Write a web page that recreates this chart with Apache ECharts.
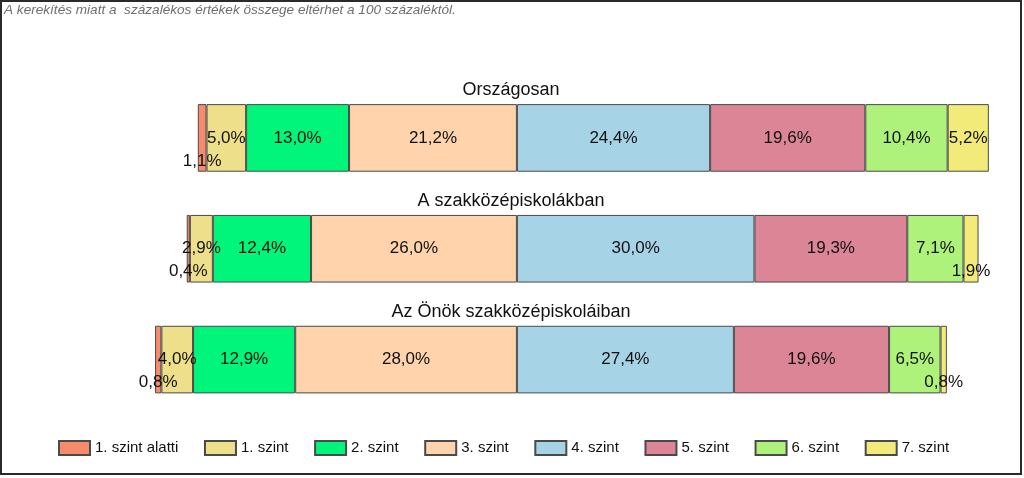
<!DOCTYPE html>
<html><head><meta charset="utf-8">
<script src="https://cdn.jsdelivr.net/npm/echarts@6/dist/echarts.min.js"></script>
<style>html,body{margin:0;padding:0;background:#fff}#c{width:1024px;height:478px}</style>
</head><body><div id="c"></div>
<script>
const categories = ['Országosan', 'A szakközépiskolákban', 'Az Önök szakközépiskoláiban'];
const levelNames = ['1. szint alatti', '1. szint', '2. szint', '3. szint', '4. szint', '5. szint', '6. szint', '7. szint'];
const levelColors = ['#F78C6C', '#EEE08A', '#00F57A', '#FFD3AB', '#A6D3E6', '#DB8597', '#AEF17B', '#F2EB7A'];
const below1 = [1.1, 0.4, 0.8];
const level1 = [5.0, 2.9, 4.0];
const level2 = [13.0, 12.4, 12.9];
const level3 = [21.2, 26.0, 28.0];
const level4 = [24.4, 30.0, 27.4];
const level5 = [19.6, 19.3, 19.6];
const level6 = [10.4, 7.1, 6.5];
const level7 = [5.2, 1.9, 0.8];
const note = 'A kerekítés miatt a  százalékos értékek összege eltérhet a 100 százaléktól.';

const levelValues = [below1, level1, level2, level3, level4, level5, level6, level7];
const FONT = '"Liberation Sans", Arial, sans-serif';

function fmt(v) { return Math.abs(v).toFixed(1).replace('.', ',') + '%'; }

// stacking order: left side grows outward from the centre (3, 2, 1, below 1), right side 4..7
const order = [3, 2, 1, 0, 4, 5, 6, 7];
const series = order.map(function (i) {
  const sign = i <= 3 ? -1 : 1;
  return {
    name: levelNames[i],
    type: 'bar',
    stack: 'all',
    barCategoryGap: '39%',
    itemStyle: { color: levelColors[i], borderColor: '#4a4a4a', borderWidth: 1 },
    label: {
      show: true, position: 'inside', color: '#111', fontSize: 17, fontFamily: FONT,
      formatter: function (p) { return fmt(p.value); }
    },
    emphasis: { disabled: true },
    data: levelValues[i].map(function (v) {
      const d = { value: sign * v };
      if (v < 2) d.label = { offset: [0, 23] };
      return d;
    })
  };
});

const chart = echarts.init(document.getElementById('c'), null, { renderer: 'canvas' });
chart.setOption({
  animation: false,
  backgroundColor: '#fff',
  grid: { left: 121, right: 32, top: 82.5, bottom: 63 },
  xAxis: { type: 'value', min: -50, max: 60, show: false },
  yAxis: { type: 'category', data: categories, inverse: true, show: false },
  legend: {
    data: levelNames, left: 53, top: 435, icon: 'rect', itemWidth: 31, itemHeight: 14, itemGap: 25.6,
    textStyle: { fontSize: 15, fontFamily: FONT, color: '#111' }
  },
  series: series
});

function placeTitles() {
  const g = [
    { type: 'rect', shape: { x: 1, y: 1, width: 1020, height: 473 }, style: { fill: 'none', stroke: '#2a2a2a', lineWidth: 2 }, silent: true },
    { type: 'text', left: 4, top: 3, style: { text: note, fill: '#6f6f6f', font: 'italic 13.6px "Liberation Sans Narrow", "Liberation Sans", Arial, sans-serif' }, silent: true }
  ];
  categories.forEach(function (c) {
    const y = chart.convertToPixel({ yAxisIndex: 0 }, c);
    g.push({ type: 'text', x: 511, y: y - 48, style: { text: c, fill: '#111', font: '18px ' + FONT, textAlign: 'center', textVerticalAlign: 'middle' }, silent: true });
  });
  chart.setOption({ graphic: g });
}
placeTitles();
</script></body></html>
